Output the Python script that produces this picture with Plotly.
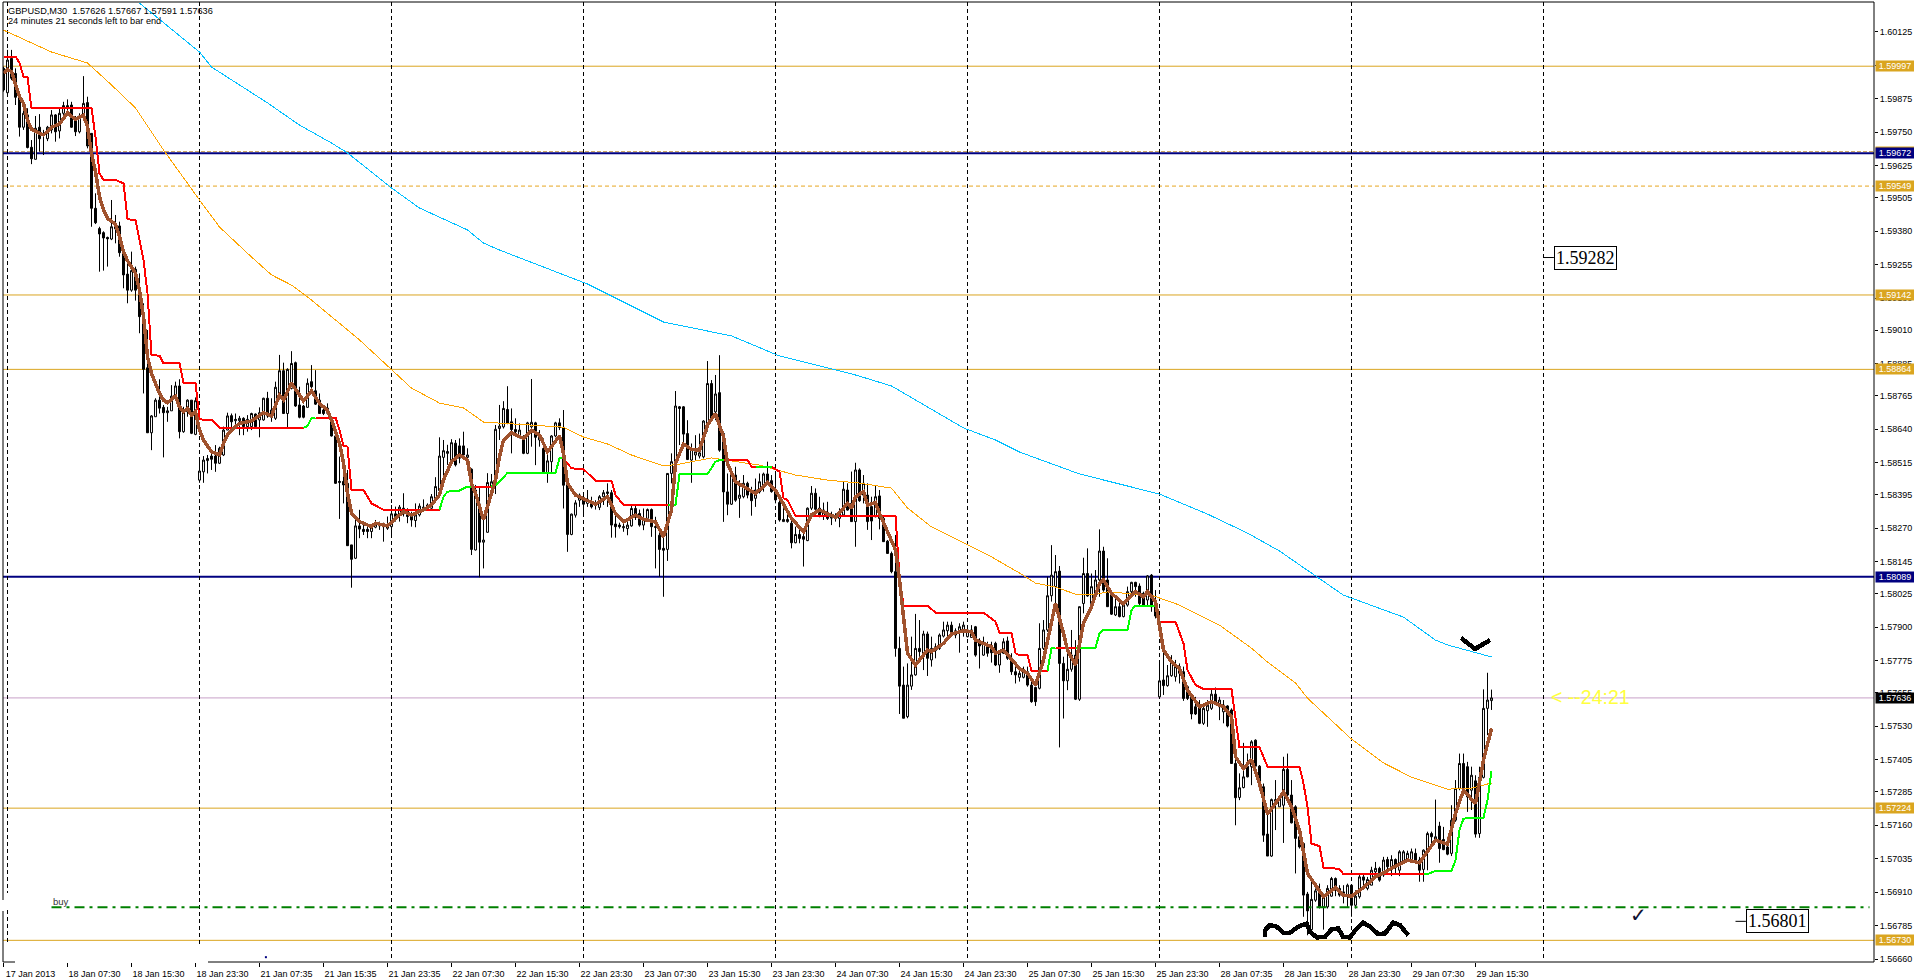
import plotly.graph_objects as go

# ---------- candle data, in 1e-5 price units ----------
opens = [
159989,159898,160026,159970,159883,159769,159815,159694,159649,159769,
159740,159726,159759,159815,159755,159821,159840,159852,159796,159752,
159806,159861,159746,159466,159390,159375,159357,159351,159389,159400,
159300,159220,159160,159238,159160,159061,158870,158627,158687,158749,
158722,158702,158709,158764,158802,158631,158706,158749,158621,158450,
158481,158523,158540,158540,158513,158544,158637,158691,158672,158672,
158681,158650,158650,158697,158675,158675,158756,158685,158681,158768,
158859,158699,158793,158889,158731,158727,158722,158818,158784,158749,
158712,158700,158675,158615,158441,158445,158438,158208,158158,158279,
158266,158266,158258,158274,158286,158286,158270,158276,158324,158320,
158345,158339,158314,158299,158320,158338,158345,158345,158382,158411,
158535,158550,158519,158588,158578,158578,158535,158491,158189,158361,
158218,158255,158426,158438,158643,158649,158714,158668,158639,158610,
158606,158550,158649,158664,158600,158568,158477,158519,158615,158664,
158647,158438,158247,158319,158375,158378,158363,158365,158363,158348,
158388,158400,158403,158286,158282,158272,158269,158279,158344,158325,
158282,158307,158340,158273,158244,158195,158191,158475,158519,158724,
158724,158624,158525,158544,158540,158537,158649,158811,158705,158777,
158624,158406,158360,158469,158382,158388,158438,158400,158382,158406,
158426,158473,158448,158413,158366,158295,158295,158289,158216,158247,
158239,158224,158345,158401,158345,158316,158326,158308,158308,158307,
158320,158413,158363,158295,158488,158394,158394,158351,158313,158391,
158307,158222,158176,158108,157821,157684,157566,157680,157722,157821,
157803,157875,157778,157813,157821,157867,157887,157908,157871,157884,
157884,157865,157862,157902,157846,157796,157834,157827,157840,157759,
157803,157849,157784,157734,157713,157713,157734,157684,157675,157672,
157821,157890,158018,158052,158110,157765,157700,157743,157796,157631,
157989,158101,157989,158017,158077,158185,158077,158027,157946,157977,
157940,157983,158033,158068,158054,158027,158002,158095,157983,157640,
157703,157682,157719,157715,157728,157734,157678,157638,157603,157603,
157541,157588,157597,157650,157603,157584,157606,157591,157391,157264,
157301,157381,157379,157478,157381,157304,157127,157045,157256,157229,
157235,157369,157273,157229,157117,157092,156903,156770,156880,156915,
156855,156855,156895,156961,156924,156911,156895,156936,156861,156893,
156967,156924,156936,156986,156999,156974,157032,157005,157032,156992,
157027,157030,157030,157055,157030,156995,157067,157129,157104,157157,
157107,157079,157055,157179,157298,157391,157379,157291,157326,157129,
157339,157597,157626]

highs = [
159995,160058,160058,159989,159889,159871,159840,159721,159811,159818,
159759,159774,159833,159818,159843,159864,159873,159864,159811,159821,
159960,159883,159746,159522,159397,159380,159360,159497,159441,159416,
159300,159273,159304,159248,159223,159111,159011,158693,158756,158827,
158731,158724,158805,158818,158827,158724,158752,158749,158759,158531,
158540,158544,158556,158581,158575,158650,158702,158699,158699,158690,
158685,158693,158702,158699,158722,158758,158780,158756,158818,158918,
158889,158868,158932,158893,158799,158731,158830,158880,158861,158774,
158731,158737,158685,158650,158538,158488,158488,158208,158301,158339,
158282,158276,158282,158301,158295,158291,158314,158357,158351,158357,
158401,158345,158332,158363,158363,158378,158363,158398,158461,158610,
158600,158582,158603,158600,158606,158631,158569,158494,158432,158426,
158320,158476,158473,158656,158731,158745,158801,158718,158681,158662,
158618,158668,158828,158668,158637,158606,158562,158618,158668,158681,
158712,158444,158325,158375,158400,158400,158413,158388,158375,158394,
158413,158438,158413,158319,158291,158288,158300,158357,158357,158340,
158344,158344,158344,158313,158276,158238,158475,158550,158783,158727,
158727,158674,158587,158618,158624,158674,158895,158824,158843,158917,
158624,158475,158487,158500,158450,158469,158444,158425,158456,158475,
158478,158519,158469,158475,158376,158345,158332,158301,158276,158270,
158270,158348,158428,158419,158388,158366,158369,158332,158326,158345,
158444,158438,158482,158515,158494,158469,158438,158388,158428,158413,
158313,158226,158183,158245,157865,157753,157765,157865,157950,157927,
157887,157884,157865,157840,157877,157921,157921,157921,157896,157915,
157921,157908,157908,157905,157859,157865,157846,157846,157846,157815,
157859,157865,157803,157753,157753,157753,157753,157703,157678,157915,
157927,158089,158207,158170,158129,157790,157815,157890,157852,157977,
158160,158195,158101,158114,158266,158201,158158,158039,158008,157996,
157996,158052,158070,158070,158064,158033,158095,158099,158039,157765,
157815,157759,157796,157778,157765,157753,157684,157640,157640,157628,
157616,157628,157668,157675,157640,157628,157609,157597,157428,157354,
157468,157428,157478,157481,157385,157316,157204,157260,157329,157273,
157416,157428,157329,157235,157136,157092,156911,156949,156924,156942,
156905,156936,156967,156965,156936,156936,156942,156936,156917,156974,
156980,156967,157005,157023,157005,157042,157042,157048,157036,157067,
157067,157065,157073,157073,157042,157070,157136,157136,157256,157173,
157154,157117,157235,157329,157428,157428,157397,157379,157347,157379,
157668,157730,157667]

lows = [
159902,159889,159945,159852,159734,159759,159690,159631,159649,159678,
159665,159717,159746,159715,159727,159815,159815,159767,159736,159746,
159798,159690,159397,159407,159229,159233,159248,159347,159335,159285,
159167,159111,159154,159121,158999,158774,158627,158562,158687,158699,
158535,158668,158709,158749,158606,158627,158687,158622,158618,158440,
158440,158475,158488,158481,158510,158540,158637,158637,158643,158618,
158618,158631,158637,158643,158610,158672,158683,158668,158675,158749,
158697,158643,158789,158724,158681,158681,158722,158774,158731,158699,
158693,158697,158613,158436,158305,158363,158205,158048,158155,158233,
158245,158233,158233,158270,158264,158220,158264,158239,158295,158295,
158314,158289,158276,158274,158314,158332,158339,158342,158376,158407,
158438,158507,158515,158501,158513,158538,158510,158170,158187,158087,
158120,158254,158382,158398,158600,158643,158659,158550,158612,158606,
158547,158547,158575,158506,158575,158477,158440,158475,158610,158637,
158344,158182,158244,158310,158350,158325,158350,158344,158340,158338,
158357,158350,158235,158235,158269,158257,158244,158276,158301,158276,
158263,158301,158238,158120,158089,158014,158148,158438,158512,158581,
158575,158525,158440,158525,158531,158531,158631,158674,158674,158556,
158294,158319,158357,158369,158309,158382,158382,158317,158350,158400,
158407,158438,158403,158363,158295,158295,158291,158195,158214,158214,
158127,158222,158338,158320,158311,158301,158301,158282,158295,158274,
158316,158336,158295,158201,158369,158363,158264,158226,158311,158266,
158220,158176,158102,157790,157576,157560,157560,157666,157719,157790,
157740,157718,157753,157784,157815,157862,157865,157865,157859,157805,
157865,157862,157862,157790,157746,157793,157790,157768,157755,157730,
157800,157778,157722,157690,157697,157709,157678,157618,157606,157668,
157815,157883,157996,157989,157451,157559,157665,157734,157628,157625,
157952,158014,157983,158014,158014,158033,157977,157946,157942,157937,
157937,157977,158014,158014,157983,157977,157983,157958,157933,157638,
157647,157678,157715,157697,157690,157625,157628,157556,157572,157538,
157535,157528,157591,157609,157553,157541,157526,157391,157160,157254,
157298,157339,157310,157341,157298,157098,157045,157042,157142,157229,
157094,157266,157167,156980,157073,156818,156749,156755,156874,156849,
156770,156849,156893,156895,156893,156868,156855,156818,156849,156886,
156936,156917,156936,156961,156949,156967,156980,156970,156977,156970,
157023,157027,157023,157020,156949,156949,156992,157073,157104,157020,
157067,157048,157045,157173,157291,157279,157210,157217,157114,157113,
157335,157497,157591]

closes = [
159908,160020,159952,159881,159769,159821,159693,159651,159765,159726,
159746,159769,159815,159752,159821,159850,159850,159769,159752,159811,
159858,159699,159466,159412,159370,159355,159352,159397,159403,159300,
159217,159160,159233,159160,159061,158864,158627,158690,158749,158719,
158702,158709,158764,158802,158631,158706,158749,158625,158747,158484,
158525,158531,158528,158513,158569,158637,158690,158668,158677,158681,
158650,158677,158699,158650,158702,158756,158690,158712,158797,158859,
158699,158864,158886,158727,158685,158685,158812,158799,158734,158699,
158699,158719,158615,158438,158445,158432,158205,158154,158279,158267,
158258,158258,158276,158286,158279,158276,158280,158324,158314,158349,
158324,158314,158301,158320,158353,158349,158357,158388,158426,158540,
158560,158557,158590,158507,158532,158544,158544,158191,158413,158218,
158226,158441,158444,158640,158652,158718,158662,158639,158631,158637,
158550,158664,158666,158610,158610,158481,158522,158615,158664,158647,
158431,158247,158323,158365,158394,158360,158378,158350,158357,158388,
158403,158406,158282,158276,158276,158276,158282,158344,158313,158282,
158307,158340,158276,158276,158191,158188,158475,158519,158727,158718,
158622,158527,158568,158556,158552,158671,158811,158681,158772,158562,
158406,158360,158469,158375,158394,158438,158394,158373,158413,158444,
158473,158448,158407,158376,158301,158303,158303,158216,158247,158232,
158229,158345,158401,158341,158320,158338,158307,158313,158313,158323,
158416,158338,158295,158488,158373,158438,158295,158297,158388,158307,
158220,158176,158108,157821,157680,157560,157684,157722,157821,157809,
157875,157784,157821,157827,157871,157890,157908,157871,157887,157902,
157908,157890,157890,157796,157830,157844,157803,157805,157759,157803,
157846,157784,157734,157722,157728,157734,157684,157622,157622,157821,
157890,158018,158095,158108,157765,157700,157743,157796,157631,157977,
158101,158017,158052,158077,158185,158039,157977,157949,157977,157940,
157983,158033,158068,158052,157989,157983,158092,157977,157942,157700,
157682,157719,157771,157753,157753,157634,157634,157576,157576,157541,
157597,157609,157650,157616,157628,157609,157531,157391,157263,157300,
157341,157341,157472,157381,157304,157123,157045,157256,157250,157266,
157369,157273,157169,157111,157079,156899,156840,156883,156915,156853,
156899,156924,156961,156924,156899,156895,156936,156861,156895,156967,
156955,156957,156992,156999,156955,157030,157005,157032,157002,157061,
157061,157055,157061,157027,156992,157067,157129,157117,157117,157073,
157069,157052,157179,157298,157391,157291,157266,157347,157127,157339,
157597,157628,157636]

# ---------- indicator lines ----------
orange_bars = [0,7,12,21,27,33,40,49,54,62,67,72,77,89,97,102,109,115,120,124,140,145,151,157,165,169,177,189,198,206,214,222,226,232,241,247,254,258,263,268,273,276,287,294,304,312,316,323,326,337,345,352,361,367,372]
orange_vals = [160132,160084,160050,160009,159927,159841,159684,159497,159396,159284,159217,159179,159123,158974,158862,158794,158738,158720,158667,158663,158648,158611,158585,158544,158503,158510,158533,158506,158469,158450,158439,158420,158346,158275,158207,158163,158103,158065,158050,158024,158024,158032,158020,157983,157908,157822,157770,157692,157635,157482,157393,157340,157295,157299,157318]

blue_bars = [34,49,52,66,74,82,86,97,104,116,120,124,146,165,182,194,213,222,240,248,254,269,285,289,301,311,319,335,350,358,361,367,372]
blue_vals = [160233,160050,159994,159860,159777,159710,159673,159542,159467,159385,159336,159310,159183,159041,158989,158914,158843,158802,158645,158600,158555,158473,158413,158398,158323,158252,158185,158020,157938,157852,157834,157808,157789]

red_bars = [0,3,4,5,6,7,22,23,24,25,28,30,31,33,34,35,36,37,39,40,44,45,48,49,52,54,75,None,
78,83,84,85,86,87,90,92,93,95,109,None,117,122,None,
140,142,145,148,152,153,155,166,None,180,186,187,188,None,
192,194,195,196,198,223,224,225,231,233,245,248,249,252,253,254,256,257,261,None,263,268,None,
289,293,295,296,298,300,307,308,309,314,316,324,325,326,327,329,330,334,335,355]
red_vals = [160033,160033,160010,159958,159955,159840,159840,159734,159597,159572,159572,159559,159425,159422,159347,159273,159148,158918,158915,158886,158886,158814,158814,158677,158675,158646,158646,None,
158684,158684,158638,158578,158575,158413,158413,158363,158355,158339,158339,None,158426,158426,None,
158531,158494,158491,158448,158448,158394,158357,158357,None,158525,158525,158500,158500,None,
158500,158482,158382,158376,158316,158316,158089,157981,157981,157955,157955,157921,157880,157880,157803,157796,157796,157738,157738,None,157824,157824,None,
157920,157920,157840,157740,157684,157669,157669,157566,157451,157451,157379,157379,157316,157229,157092,157082,157002,156997,156977,156977]

green_bars = [75,76,77,78,None,109,110,111,114,116,117,None,122,123,124,126,138,139,140,None,166,168,169,176,178,179,180,None,188,192,None,261,262,263,None,268,273,274,275,281,282,283,288,None,355,356,358,362,363,364,365,370,371,372]
green_vals = [158646,158652,158681,158684,None,158339,158388,158407,158411,158426,158426,None,158426,158431,158444,158477,158477,158531,158531,None,158357,158357,158472,158472,158519,158525,158525,None,158500,158500,None,157738,157822,157824,None,157824,157824,157877,157890,157890,157964,157981,157981,None,156977,156977,156990,156990,157030,157142,157185,157188,157254,157364]

brown_bars = [0,1,2,3,4,5,6,7,9,10,12,14,16,18,20,21,22,23,24,25,26,28,29,30,31,33,34,35,36,37,39,40,41,43,44,45,46,47,48,49,50,52,54,55,56,57,59,
62,65,67,69,70,72,75,77,79,81,82,84,85,86,87,89,92,93,96,98,100,102,105,107,109,110,112,114,116,117,118,120,121,123,
124,125,127,130,132,134,136,139,140,141,143,146,148,151,153,155,158,160,163,165,167,168,170,172,174,176,178,180,181,183,186,188,189,
191,193,195,197,200,202,204,208,211,212,213,215,216,218,219,221,223,224,225,226,228,231,232,235,237,240,242,243,247,248,250,254,
256,258,260,263,265,266,268,270,272,274,275,277,280,283,285,286,288,290,292,294,296,299,302,305,307,308,310,
312,314,316,318,320,322,324,326,330,333,335,337,340,343,348,351,354,358,361,363,365,368,370,372]
brown_vals = [159970,159985,159977,159933,159883,159858,159796,159761,159746,159740,159769,159781,159823,159798,159813,159771,159671,159603,159509,159460,159428,159407,159360,159304,159270,159223,159160,159061,158911,158849,158774,158749,158739,158764,158724,158706,158718,158693,158706,158637,158600,158556,158544,158587,158619,158637,158662,
158671,158702,158690,158768,158750,158812,158746,158783,158737,158710,158675,158588,158513,158401,158326,158295,158276,158289,158279,158307,158332,158320,158339,158357,158395,158451,158519,158544,158525,158438,158401,158301,158351,158451,
158537,158600,158627,158606,158637,158618,158556,158615,158550,158438,158394,158373,158360,158388,158325,158294,158319,158303,158294,158238,158338,158512,158585,158565,158562,158656,158699,158612,158512,158444,158419,158400,158413,
158441,158413,158363,158307,158257,158320,158338,158311,158363,158345,158388,158407,158357,158366,158326,158257,158189,158077,157940,157803,157759,157815,157809,157840,157875,157887,157884,157852,157827,157803,157815,157746,
157728,157684,157778,157989,157877,157815,157759,157915,157977,158064,158077,158027,157987,158033,158014,158033,157996,157815,157771,157746,157665,157603,157622,157603,157566,157416,157372,
157406,157316,157202,157241,157285,157229,157142,156980,156893,156927,156899,156895,156927,156967,157005,157030,157020,157104,157089,157204,157291,157241,157403,157522]

wave_bars = [315.4,315.4,316.6,318.3,320,321.6,323.7,325.8,326.6,328.3,330.4,332,333.7,334.9,336.6,338.3,339.9,341.6,343.7,345.4,347.4,349.1,351.2]
wave_vals = [156743,156768,156787,156781,156758,156758,156781,156793,156762,156741,156743,156771,156774,156743,156741,156774,156796,156781,156753,156756,156796,156787,156749]
tick_bars = [364.4,367.9,371.6]
tick_vals = [157860,157819,157852]
dot_bar = [65.6]
dot_val = [156667]

# ---------- axis text ----------
date_bars = list(range(0, 369, 16))
date_labels = ["17 Jan 2013","18 Jan 07:30","18 Jan 15:30","18 Jan 23:30","21 Jan 07:35","21 Jan 15:35","21 Jan 23:35","22 Jan 07:30","22 Jan 15:30","22 Jan 23:30","23 Jan 07:30","23 Jan 15:30","23 Jan 23:30","24 Jan 07:30","24 Jan 15:30","24 Jan 23:30","25 Jan 07:30","25 Jan 15:30","25 Jan 23:30","28 Jan 07:35","28 Jan 15:30","28 Jan 23:30","29 Jan 07:30","29 Jan 15:30"]
price_ticks = [1.60125,1.60000,1.59875,1.59750,1.59625,1.59505,1.59380,1.59255,1.59130,1.59010,1.58885,1.58765,1.58640,1.58515,1.58395,1.58270,1.58145,1.58025,1.57900,1.57775,1.57655,1.57530,1.57405,1.57285,1.57160,1.57035,1.56910,1.56785,1.56660]
grid_bars = [1,49,97,145,193,241,289,337,385]
gold_levels = [1.59997,1.59142,1.58864,1.57224,1.56730]
dashed_level = 1.59549
navy_levels = [1.59672,1.58089]
tan_level = 1.59678
bid_level = 1.57636
buy_level = 1.56854
buy_start_bar = 12
free_labels = [(387.6,1.59282,384.9),(435.6,1.56801,433.0)]

W, H = 1914, 979
L, R, T, B = 3, 1874, 2, 962
GOLD = "#DAA520"
NAVY = "#000080"
FONT = "Liberation Sans"

def pr(seq):
    return [None if v is None else v / 1e5 for v in seq]
def px(x):
    return (x - L) / (R - L)
def py(y):
    return (B - y) / (B - T)

fig = go.Figure()
fig.add_trace(go.Candlestick(
    x=list(range(len(opens))), open=pr(opens), high=pr(highs), low=pr(lows), close=pr(closes),
    increasing=dict(line=dict(color="black", width=1), fillcolor="white"),
    decreasing=dict(line=dict(color="black", width=1), fillcolor="black"),
    whiskerwidth=0, showlegend=False, hoverinfo="skip"))
def line(xs, ys, color, width):
    fig.add_trace(go.Scatter(x=xs, y=pr(ys), mode="lines", line=dict(color=color, width=width),
                             connectgaps=False, showlegend=False, hoverinfo="skip"))
line(orange_bars, orange_vals, "#FFA500", 1)
line(blue_bars, blue_vals, "#00BFFF", 1)
line(red_bars, red_vals, "#FF0000", 2)
line(green_bars, green_vals, "#00FF00", 2)
line(brown_bars, brown_vals, "#A0522D", 3.5)
line(wave_bars, wave_vals, "#000000", 4.5)
line(tick_bars, tick_vals, "#000000", 4.5)
fig.add_trace(go.Scatter(x=dot_bar, y=pr(dot_val), mode="markers", marker=dict(color=NAVY, size=2, symbol="square"),
                         showlegend=False, hoverinfo="skip"))

shapes = []
def hline(level, color, width, dash="solid", x0=0, x1=1, xref="paper"):
    shapes.append(dict(type="line", xref=xref, yref="y", x0=x0, x1=x1, y0=level, y1=level,
                       line=dict(color=color, width=width, dash=dash), layer="below"))
for g in gold_levels:
    hline(g, GOLD, 1)
hline(dashed_level, "#E6A520", 1, "4px,3px")
hline(tan_level, "#C9A05A", 1, "4px,2px")
for n in navy_levels:
    hline(n, NAVY, 2)
hline(bid_level, "#C8A0C8", 1)
shapes.append(dict(type="line", xref="x", yref="y", x0=buy_start_bar, x1=466.5, y0=buy_level, y1=buy_level,
                   line=dict(color="#008000", width=2, dash="10px,5px,3px,5px")))
for i, b in enumerate(grid_bars):
    segs = [(2, 893), (910, 945)] if i == 0 else [(2, 947)] if i == 1 else [(2, 959)]
    for a, c in segs:
        shapes.append(dict(type="line", xref="x", yref="paper", x0=b, x1=b, y0=py(a), y1=py(c),
                           line=dict(color="black", width=1, dash="4px,3px"), layer="below"))
# frame
for x0, y0, x1, y1 in [(3, 2, 1874, 2), (1874, 2, 1874, 962), (3, 2, 3, 900), (3, 911, 3, 962), (3, 962, 15, 962), (208, 962, 1874, 962)]:
    shapes.append(dict(type="line", xref="paper", yref="paper", x0=px(x0), x1=px(x1), y0=py(y0), y1=py(y1),
                       line=dict(color="black", width=1)))
for bar, lvl, lead in free_labels:
    shapes.append(dict(type="line", xref="x", yref="y", x0=lead, x1=bar, y0=lvl, y1=lvl,
                       line=dict(color="black", width=1)))

ann = []
def box(level, bg, fg="white"):
    ann.append(dict(xref="paper", yref="y", x=1, y=level, xanchor="left", yanchor="middle", xshift=1,
                    text=f"{level:.5f}", showarrow=False, bgcolor=bg, width=38, height=10, borderpad=0,
                    font=dict(family=FONT, size=9, color=fg)))
for g in gold_levels:
    box(g, GOLD)
box(dashed_level, GOLD)
ann.append(dict(xref="paper", yref="y", x=1, y=tan_level, xanchor="left", yanchor="middle", xshift=1, text="",
                showarrow=False, bgcolor=GOLD, width=38, height=10, borderpad=0))
for n in navy_levels:
    box(n, NAVY)
box(bid_level, "black")
for bar, lvl, lead in free_labels:
    ann.append(dict(xref="x", yref="y", x=bar, y=lvl, xanchor="left", yanchor="middle", text=f"{lvl:.5f}",
                    showarrow=False, bgcolor="white", bordercolor="black", borderwidth=1, borderpad=1,
                    font=dict(family="Liberation Serif", size=18, color="black")))
def text(x, y, s, size=9.5, color="#000000", family=FONT):
    ann.append(dict(xref="paper", yref="paper", x=px(x), y=py(y), xanchor="left", yanchor="middle", text=s,
                    showarrow=False, font=dict(family=family, size=size, color=color), borderpad=0))
text(7, 11, "GBPUSD,M30  1.57626 1.57667 1.57591 1.57636", 9.2)
text(7, 21, "24 minutes 21 seconds left to bar end", 9.2)
text(52, 901, "buy", 9.5, "#333333")
text(1550, 697, "&lt; --24:21", 19.5, "#FFFF40")
ann.append(dict(xref="paper", yref="paper", x=px(1638), y=py(915), xanchor="center", yanchor="middle", text="✓",
                showarrow=False, font=dict(family="DejaVu Sans", size=20, color="#101030")))

fig.update_layout(
    width=W, height=H, autosize=False, paper_bgcolor="white", plot_bgcolor="white", showlegend=False,
    margin=dict(l=L, r=W - R, t=T, b=H - B, pad=0, autoexpand=False),
    shapes=shapes, annotations=ann,
    xaxis=dict(range=[-0.125, 467.625], rangeslider=dict(visible=False), showgrid=False, zeroline=False, showline=False,
               automargin=False, tickmode="array", tickvals=date_bars, ticktext=date_labels, ticks="outside", ticklen=4,
               tickcolor="black", ticklabelshift=27, ticklabelstandoff=-1, tickangle=0,
               tickfont=dict(family=FONT, size=9, color="black")),
    yaxis=dict(range=[1.56649, 1.60237], side="right", showgrid=False, zeroline=False, showline=False, automargin=False,
               tickmode="array", tickvals=price_ticks, ticktext=[f"{v:.5f}" for v in price_ticks], ticks="outside",
               ticklen=3, tickcolor="black", tickfont=dict(family=FONT, size=9, color="black")),
)
fig.write_html("out.html", config=dict(displayModeBar=False, responsive=False),
               post_script="document.body.style.margin='0';document.documentElement.style.overflow='hidden';"
                           "document.head.insertAdjacentHTML('beforeend','<style>.js-line{shape-rendering:crispEdges}</style>');")
